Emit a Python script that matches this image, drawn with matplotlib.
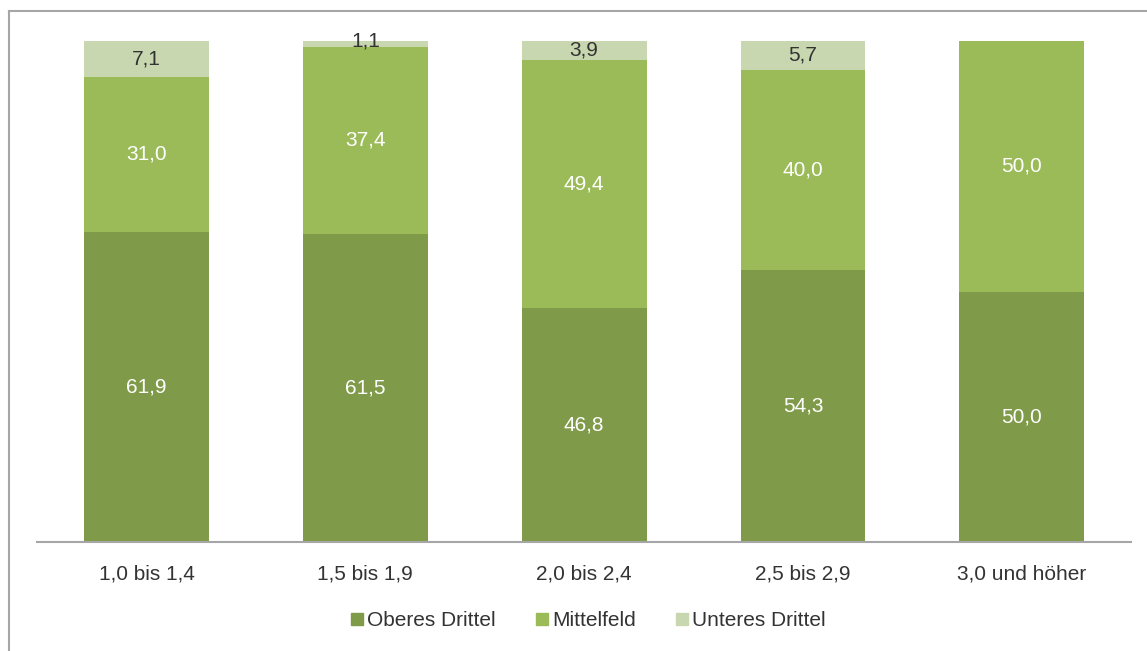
import matplotlib
matplotlib.use("Agg")
import matplotlib.pyplot as plt
from matplotlib.lines import Line2D
import numpy as np

categories = ["1,0 bis 1,4", "1,5 bis 1,9", "2,0 bis 2,4", "2,5 bis 2,9", "3,0 und höher"]
oberes = [61.9, 61.5, 46.8, 54.3, 50.0]
mittel = [31.0, 37.4, 49.4, 40.0, 50.0]
unteres = [7.1, 1.1, 3.9, 5.7, 0.0]
series_names = ["Oberes Drittel", "Mittelfeld", "Unteres Drittel"]

DARK = "#7F9A48"
MID = "#9BBB59"
LIGHT = "#C8D7AF"
TXT = "#333333"
AXIS = "#A6A6A6"

plt.rcParams["font.family"] = ["Liberation Sans", "DejaVu Sans"]

fig = plt.figure(figsize=(11.47, 6.51), dpi=100)
ax = fig.add_axes([0.0323, 0.1674, 0.954, 0.7696])

x = np.arange(len(categories))
w = 0.57
ax.bar(x, oberes, w, color=DARK, label=series_names[0])
ax.bar(x, mittel, w, bottom=oberes, color=MID, label=series_names[1])
bot3 = np.array(oberes) + np.array(mittel)
ax.bar(x, unteres, w, bottom=bot3, color=LIGHT, label=series_names[2])

fs = 15
for i in range(len(categories)):
    ax.text(x[i], oberes[i] / 2, f"{oberes[i]:.1f}".replace(".", ","),
            ha="center", va="center", color="white", fontsize=fs)
    ax.text(x[i], oberes[i] + mittel[i] / 2, f"{mittel[i]:.1f}".replace(".", ","),
            ha="center", va="center", color="white", fontsize=fs)
    if unteres[i] > 0:
        yc = bot3[i] + unteres[i] / 2
        if unteres[i] < 2:
            yc = bot3[i] + 1.2
        ax.text(x[i], yc, f"{unteres[i]:.1f}".replace(".", ","),
                ha="center", va="center", color=TXT, fontsize=fs)

ax.set_xlim(-0.5, 4.5)
ax.set_ylim(0, 100)
ax.set_xticks(x)
ax.set_xticklabels(categories, fontsize=fs, color=TXT)
ax.tick_params(axis="x", length=0, pad=16)
ax.set_yticks([])
for s in ["top", "right", "left"]:
    ax.spines[s].set_visible(False)
ax.spines["bottom"].set_color(AXIS)
ax.spines["bottom"].set_linewidth(1.5)

handles = [Line2D([], [], marker="s", linestyle="", markersize=9, color=c)
           for c in (DARK, MID, LIGHT)]
fig.legend(handles, series_names, loc="center", bbox_to_anchor=(0.511, 0.047),
           ncol=3, frameon=False, fontsize=fs, handletextpad=0.0,
           columnspacing=1.7, labelcolor=TXT, handlelength=1.0)

# outer frame (left and top edges)
fig.add_artist(Line2D([0.0075, 0.0075], [0.0, 0.983], transform=fig.transFigure,
                      color=AXIS, linewidth=1.5))
fig.add_artist(Line2D([0.0075, 1.0], [0.983, 0.983], transform=fig.transFigure,
                      color=AXIS, linewidth=1.5))

fig.savefig("out.png", dpi=100)
